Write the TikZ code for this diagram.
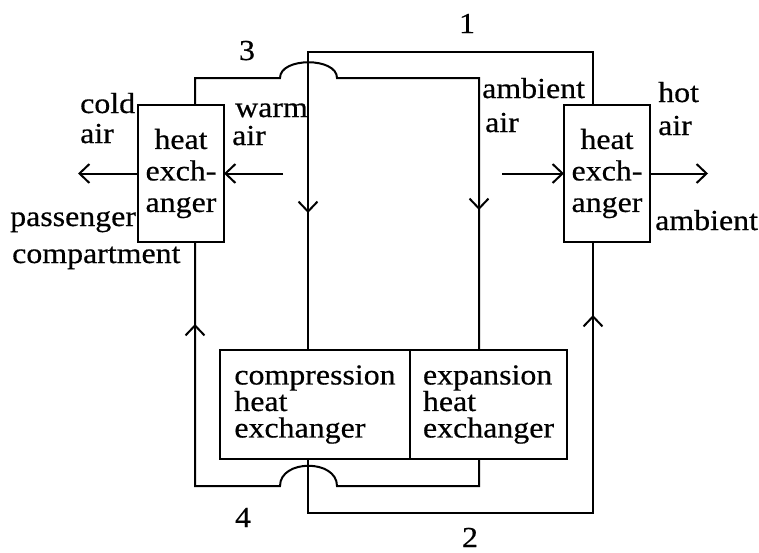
\documentclass[tikz,border=0pt]{standalone}
\usepackage{fontspec}
\setmainfont{Liberation Serif}[FakeStretch=1.1,FakeBold=0.5]
\usetikzlibrary{arrows.meta,decorations.markings,calc}
\begin{document}
\begin{tikzpicture}[x=1pt,y=-1pt,
  pipe/.style={line width=2pt, line join=miter},
  box/.style={draw, line width=2.8pt, inner sep=0pt, outer sep=0pt},
  hx/.style={box, minimum width=86pt, minimum height=137pt, align=center,
    font=\fontsize{29}{31.5}\selectfont},
  cx/.style={box, minimum height=109pt, align=left,
    font=\fontsize{29}{26.5}\selectfont},
  lbl/.style={inner sep=0pt, anchor=base west, font=\fontsize{29}{31}\selectfont},
  num/.style={inner sep=0pt, anchor=base, font=\fontsize{29}{31}\selectfont},
  tip/.style={-{Straight Barb[length=10pt,width=19pt]}},
  arrowat/.style={postaction={decorate}, decoration={markings,
    mark=at position #1 with {\arrow[line width=2pt]{Straight Barb[length=10pt,width=19pt]}}}}
]
\useasboundingbox (0,0) rectangle (759,552);

% boxes
\node[hx] (LX) at (181,173.5) {heat\\exch-\\anger};
\node[hx] (RX) at (607,173.5) {heat\\exch-\\anger};
\node[cx, minimum width=190pt] (CX) at (315,404.5) {compression\\heat\\exchanger};
\node[cx, minimum width=157pt] (EX) at (488.5,404.5) {expansion\\heat\\exchanger};

% pipe 1
\draw[pipe, arrowat=499pt] ($(RX.north west)+(29,0)$) -- (593,52) -- (308,52) -- ($(CX.north west)+(88,0)$);
% pipe 3
\draw[pipe, arrowat=-140pt] ($(LX.north west)+(57,0)$) -- (195,78) -- (280,78)
  .. controls (280,57) and (337,57) .. (337,78) -- (479,78) -- ($(EX.north west)+(69,0)$);
% pipe 4
\draw[pipe, arrowat=-82pt] ($(EX.south west)+(69,0)$) -- (479,486) -- (337,486)
  .. controls (337,459) and (280,459) .. (280,486) -- (195,486) -- ($(LX.south west)+(57,0)$);
% pipe 2
\draw[pipe, arrowat=-73pt] ($(CX.south west)+(88,0)$) -- (308,513) -- (593,513) -- ($(RX.south west)+(29,0)$);

% air flows
\coordinate (coldend) at (78,173.5);
\coordinate (warmstart) at (283,173.5);
\coordinate (ambstart) at (502,173.5);
\coordinate (hotend) at (708,173.5);
\draw[pipe, tip] (LX.west) -- (coldend);
\draw[pipe, tip] (warmstart) -- (LX.east);
\draw[pipe, tip] (ambstart) -- (RX.west);
\draw[pipe, tip] (RX.east) -- (hotend);

% labels
\node[lbl] (l1) at (80,113) {cold};
\node[lbl] (l2) at (80,143) {air};
\node[lbl] (l3) at (235,117) {warm};
\node[lbl] (l4) at (232,145) {air};
\node[lbl] (l5) at (482,98) {ambient};
\node[lbl] (l6) at (485,132) {air};
\node[lbl] (l7) at (658,102) {hot};
\node[lbl] (l8) at (658,135) {air};
\node[lbl] (l9) at (655,230) {ambient};
\node[lbl] (l10) at (10,226) {passenger};
\node[lbl] (l11) at (12,263) {compartment};

% numbers
\node[num] (n1) at (467,33) {1};
\node[num] (n3) at (247,60) {3};
\node[num] (n4) at (243,527) {4};
\node[num] (n2) at (470,547) {2};
\end{tikzpicture}
\end{document}
